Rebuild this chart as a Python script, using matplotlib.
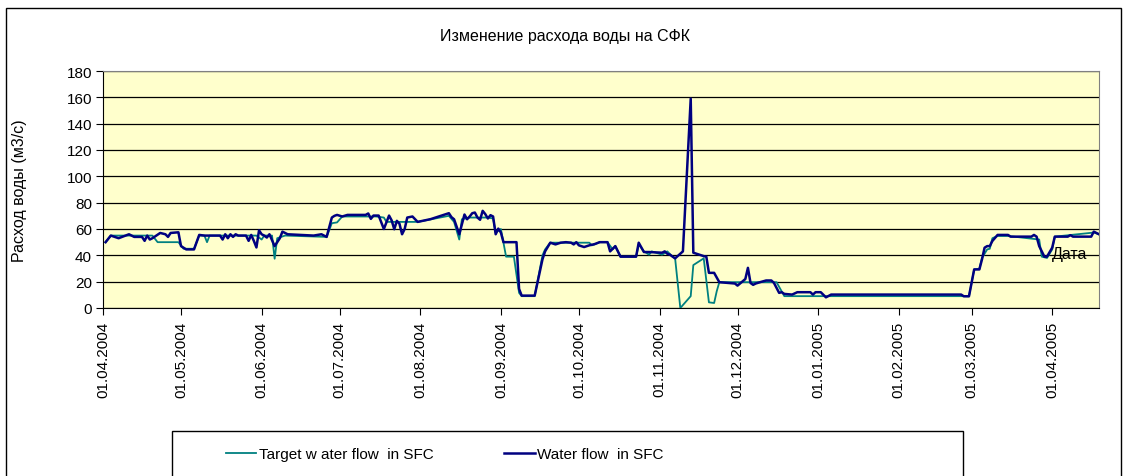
import numpy as np
import matplotlib
matplotlib.use('Agg')
import matplotlib.pyplot as plt
import matplotlib.dates as mdates
from matplotlib.patches import Rectangle

plt.rcParams['font.family'] = ['Liberation Sans', 'DejaVu Sans']

# дни от 01.04.2004 и значения расхода (м3/с)
start = np.datetime64('2004-04-01')

flow_days = [1, 3, 6, 10, 12, 15, 16, 17, 18, 19, 22, 24, 25, 26, 29, 30, 32, 35, 37, 39,
             45, 46, 47, 48, 49, 50, 51, 52, 55, 56, 57, 58, 59, 60, 61, 62, 63, 64, 66, 68,
             69, 71, 81, 84, 86, 88, 89, 90, 92, 94, 101, 102, 103, 104, 106, 108, 110, 111,
             112, 113, 114, 115, 116, 117, 119, 121, 126, 133, 134, 135, 137, 139, 140, 141,
             142, 143, 144, 145, 146, 147, 148, 149, 150, 151, 152, 153, 154, 159, 160, 161,
             166, 169, 170, 172, 174, 176, 178, 180, 181, 182, 183, 185, 187, 189, 191, 194,
             195, 197, 199, 205, 206, 208, 210, 215, 216, 217, 218, 220, 223, 226, 227, 231,
             232, 233, 235, 237, 243, 244, 246, 247, 248, 249, 250, 251, 253, 255, 257, 258,
             260, 261, 262, 265, 267, 272, 273, 274, 276, 278, 280, 330, 331, 333, 335, 337,
             338, 339, 340, 341, 342, 344, 348, 349, 357, 358, 359, 360, 362, 363, 365, 366,
             371, 372, 373, 380, 381, 383]
flow = [50, 55, 53, 56, 54, 54, 51, 55, 52, 53, 57, 56, 54, 57, 57.5, 47, 44.5, 44.5, 55.5, 55,
        55, 52, 56, 53, 56, 54, 56, 55, 55, 51, 55.5, 51, 46, 59, 56, 55, 53.5, 56, 47, 53,
        58, 56, 55, 56, 54, 68.7, 70, 70.7, 69.5, 70.7, 70.7, 71.8, 67.7, 70.2, 70.2, 60, 70.2, 66.5,
        59.8, 66.2, 64, 56, 60, 68.7, 69.5, 65.4, 67.5, 72, 69, 67.4, 56, 71, 67.4, 69.5,
        72, 72.5, 68.7, 67, 73.8, 71.3, 68, 70.5, 69.5, 56, 60.3, 57.3, 50, 50, 14.5, 9.4,
        9.4, 37, 43, 49.6, 48.3, 49.6, 50, 49.6, 48.3, 50, 47.6, 46.3, 47.6, 48.5, 50, 50,
        43, 47, 39, 39, 49.6, 42.5, 42.5, 42, 43, 41.2, 40.5, 37.7, 43, 159, 42, 39.4,
        39, 26.7, 26.7, 19.6, 18.6, 17, 20.4, 22, 30.5, 19, 17.6, 18.6, 19.8, 20.9, 20.9, 19.1,
        11.5, 12, 10.7, 10.2, 12, 12, 10.2, 12, 12, 8.1, 10.2, 10.2, 8.9, 8.9, 29.3, 29.3,
        36.9, 45.8, 47, 47, 50.9, 55.5, 55.5, 54.2, 54.2, 55.5, 54.2, 47, 39, 39, 45.8, 54.2,
        54.2, 55.3, 54.2, 54.2, 58, 56]

target_days = [1, 3, 19, 21, 29, 31, 35, 37, 39, 40, 41, 59, 61, 62, 65, 66, 67, 70, 86, 88,
               90, 92, 105, 108, 109, 121, 133, 135, 137, 138, 141, 148, 150, 151, 153, 155,
               158, 160, 161, 166, 169, 170, 172, 187, 188, 189, 191, 194, 196, 197, 199, 205,
               206, 208, 210, 211, 215, 217, 219, 220, 222, 226, 227, 231, 233, 235, 236, 237,
               259, 262, 330, 333, 335, 337, 338, 340, 341, 342, 344, 348, 360, 361, 363, 365,
               366, 381, 383]
target = [50, 55, 55, 50, 50, 45, 45, 55, 55, 50, 55, 55, 52, 55, 55, 37.4, 53, 55, 54, 64.4,
          65, 69.5, 69.5, 68.7, 65.4, 65.4, 70, 65.4, 52, 67.4, 68.7, 68.7, 68, 57.3, 60, 39,
          39, 11.5, 9, 9, 40, 44.5, 49.6, 49.6, 47.6, 48.3, 50, 50, 44.5, 47, 39, 39,
          48.3, 43, 40.5, 43, 40.5, 43, 39, 37.7, 0, 9, 32.6, 37.7, 4.3, 3.8, 12.7, 19.6,
          19.6, 9, 9, 8.9, 29.3, 29.8, 38, 44.5, 45, 53, 54.7, 54.7, 52, 39, 38, 44.5,
          54.2, 57.3, 56]

y_ticks = list(range(0, 181, 20))

W, H = 1125, 477
fig = plt.figure(figsize=(W / 100, H / 100), dpi=100)
ax = fig.add_axes([103 / W, 1 - 309 / H, 996 / W, 237 / H])
ax.set_facecolor('#FFFFCC')

t_dates = start + np.array(target_days, dtype='timedelta64[D]')
f_dates = start + np.array(flow_days, dtype='timedelta64[D]')
l1, = ax.plot(t_dates, target, color='#008080', lw=1.3, label='Target w ater flow  in SFC', zorder=3)
l2, = ax.plot(f_dates, flow, color='#000080', lw=1.8, label='Water flow  in SFC', zorder=4)

ax.set_xlim(start, start + np.timedelta64(383, 'D'))
ax.set_ylim(0, 180)
ax.set_yticks(y_ticks)
ax.yaxis.grid(True, color='black', lw=0.9)
ax.set_axisbelow(True)

ax.xaxis.set_major_locator(mdates.MonthLocator())
ax.xaxis.set_major_formatter(mdates.DateFormatter('%d.%m.%Y'))
ax.tick_params(axis='x', rotation=90, labelsize=11, length=5, pad=4, color='black')
ax.tick_params(axis='y', labelsize=11, length=5, pad=3, color='black')
for lab in ax.get_xticklabels():
    lab.set_verticalalignment('top')

ax.spines['left'].set_color('black')
ax.spines['bottom'].set_color('black')
ax.spines['top'].set_color('#808080')
ax.spines['right'].set_color('#808080')

fig.text(565 / W, 1 - 37 / H, 'Изменение расхода воды на СФК', ha='center', va='center', fontsize=11.5)
fig.text(20 / W, 1 - 191 / H, 'Расход воды (м3/с)', rotation=90, ha='center', va='center', fontsize=11.5)
fig.text(1070 / W, 1 - 255 / H, 'Дата', ha='center', va='center', fontsize=11.5)

# рамки
fig.patches.append(Rectangle((6 / W, -0.02), 1115 / W, 1 - 9 / H + 0.02, transform=fig.transFigure,
                             fill=False, edgecolor='black', lw=1))
fig.patches.append(Rectangle((172 / W, -0.02), 791 / W, 1 - 432 / H + 0.02, transform=fig.transFigure,
                             fill=False, edgecolor='black', lw=1))

fig.legend(handles=[l1, l2], loc='center left', bbox_to_anchor=(212 / W, 1 - 455 / H), ncol=2,
           frameon=False, fontsize=11, handlelength=2.0, handletextpad=0.15, columnspacing=4.65)

fig.savefig('out.png', dpi=100)
